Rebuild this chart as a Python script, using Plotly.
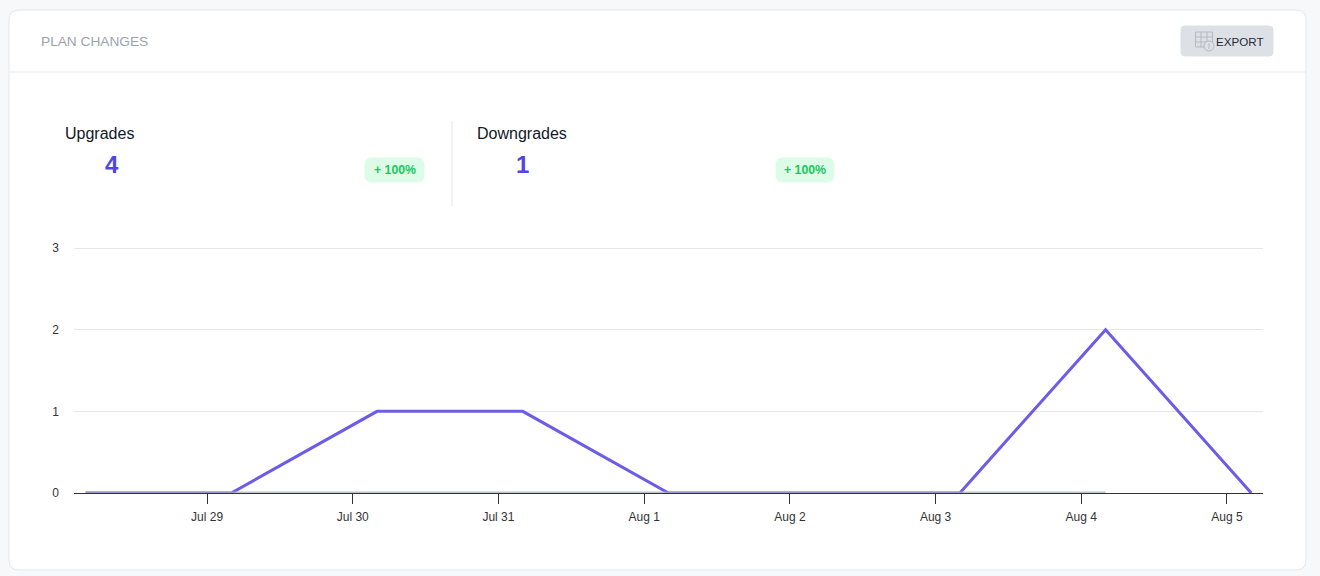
# Plan changes card, upgrades / downgrades per day
import plotly.graph_objects as go

dates = ["2023-07-28 04:00", "2023-07-29 04:00", "2023-07-30 04:00", "2023-07-31 04:00",
         "2023-08-01 04:00", "2023-08-02 04:00", "2023-08-03 04:00", "2023-08-04 04:00",
         "2023-08-05 04:00"]
upgrades = [0, 0, 1, 1, 0, 0, 0, 2, 0]
downgrades = [0, 0, 0, 0, 0, 0, 0, 0]

tick_dates = ["2023-07-29", "2023-07-30", "2023-07-31", "2023-08-01",
              "2023-08-02", "2023-08-03", "2023-08-04", "2023-08-05"]
tick_labels = ["Jul 29", "Jul 30", "Jul 31", "Aug 1", "Aug 2", "Aug 3", "Aug 4", "Aug 5"]
y_ticks = [0, 1, 2, 3]

FONT = "'Liberation Sans', Arial, sans-serif"
# top edge sits 2px above the "3" gridline, plotly drops gridlines closer than 1px to the end
PLOT_L, PLOT_R, PLOT_T, PLOT_B = 74, 1263, 246, 493


# --> page pixels to paper coordinates
def px(x):
    return (x - PLOT_L) / (PLOT_R - PLOT_L)


def py(y):
    return (PLOT_B - y) / (PLOT_B - PLOT_T)


def rounded(x0, y0, x1, y1, r):
    return (f"M {px(x0 + r)} {py(y0)} L {px(x1 - r)} {py(y0)} "
            f"Q {px(x1)} {py(y0)} {px(x1)} {py(y0 + r)} L {px(x1)} {py(y1 - r)} "
            f"Q {px(x1)} {py(y1)} {px(x1 - r)} {py(y1)} L {px(x0 + r)} {py(y1)} "
            f"Q {px(x0)} {py(y1)} {px(x0)} {py(y1 - r)} L {px(x0)} {py(y0 + r)} "
            f"Q {px(x0)} {py(y0)} {px(x0 + r)} {py(y0)} Z")


def box(x0, y0, x1, y1, r, fill, line=None):
    return dict(type="path", xref="paper", yref="paper", path=rounded(x0, y0, x1, y1, r),
                fillcolor=fill, line=dict(color=line or fill, width=1), layer="below")


def seg(x0, y0, x1, y1, color, width=1):
    return dict(type="line", xref="paper", yref="paper", x0=px(x0), y0=py(y0), x1=px(x1), y1=py(y1),
                line=dict(color=color, width=width), layer="below")


def label(x, y, text, size, color, anchor="left", bold=False):
    return dict(xref="paper", yref="paper", x=px(x), y=py(y), text=f"<b>{text}</b>" if bold else text,
                showarrow=False, xanchor=anchor, yanchor="middle",
                font=dict(family=FONT, size=size, color=color))


shapes = [
    box(9, 10, 1306, 570, 10, "#ffffff", "#e5e7eb"),
    seg(9, 72, 1306, 72, "#e5e7eb"),
    seg(452, 121, 452, 206, "#e5e7eb"),
    box(1181, 26, 1273, 56, 4, "#dde1e6"),
    box(365, 158, 424, 182, 7, "#dcfce7"),
    box(776, 158, 834, 182, 7, "#dcfce7"),
]
# --> export icon
for gx in [1195.5, 1201, 1207, 1212.5]:
    shapes.append(seg(gx, 32, gx, 47, "#b4bac1"))
for gy in [32, 37, 42, 47]:
    shapes.append(seg(1195.5, gy, 1212.5, gy, "#b4bac1"))
shapes.append(dict(type="circle", xref="paper", yref="paper", x0=px(1204), y0=py(41), x1=px(1214), y1=py(51),
                   fillcolor="#dde1e6", line=dict(color="#b4bac1", width=1), layer="below"))
shapes.append(seg(1209, 43, 1209, 49, "#b4bac1"))

annotations = [
    label(39, 41, "PLAN CHANGES", 13.7, "#9ca3af"),
    label(1213.5, 41, "EXPORT", 11.6, "#1f2937"),
    label(63, 133, "Upgrades", 16, "#111827"),
    label(475, 133, "Downgrades", 16, "#111827"),
    label(111.5, 165, "4", 24, "#4f46e5", "center", True),
    label(522.5, 165, "1", 24, "#4f46e5", "center", True),
    label(394.5, 170, "+ 100%", 12.3, "#22c55e", "center", True),
    label(805, 170, "+ 100%", 12.3, "#22c55e", "center", True),
]

fig = go.Figure()
fig.add_trace(go.Scatter(x=dates, y=upgrades, mode="lines", name="Upgrades",
                         line=dict(color="#6c5ce7", width=3)))
fig.add_trace(go.Scatter(x=dates[:len(downgrades)], y=downgrades, mode="lines", name="Downgrades",
                         line=dict(color="rgba(165,175,190,0.75)", width=3)))

fig.update_layout(
    width=1320, height=576, autosize=False, showlegend=False,
    margin=dict(l=PLOT_L, r=1320 - PLOT_R, t=PLOT_T, b=576 - PLOT_B, pad=0),
    paper_bgcolor="#f7f8fa", plot_bgcolor="rgba(0,0,0,0)",
    font=dict(family=FONT, size=12, color="#333333"),
    shapes=shapes, annotations=annotations,
    xaxis=dict(type="date", range=["2023-07-28 02:05", "2023-08-05 05:56"],
               tickvals=tick_dates, ticktext=tick_labels, showgrid=False, zeroline=False,
               ticks="outside", ticklen=10, tickcolor="#333333", tickwidth=1,
               showline=True, linecolor="#333333", linewidth=1, ticklabelstandoff=3),
    yaxis=dict(range=[0, 3.0245], tickvals=y_ticks, gridcolor="#e5e7eb", gridwidth=1, zeroline=False,
               ticks="", showline=False, ticklabelstandoff=14),
)

fig.write_html("out.html", config=dict(displayModeBar=False),
               post_script="document.body.style.margin='0';")
